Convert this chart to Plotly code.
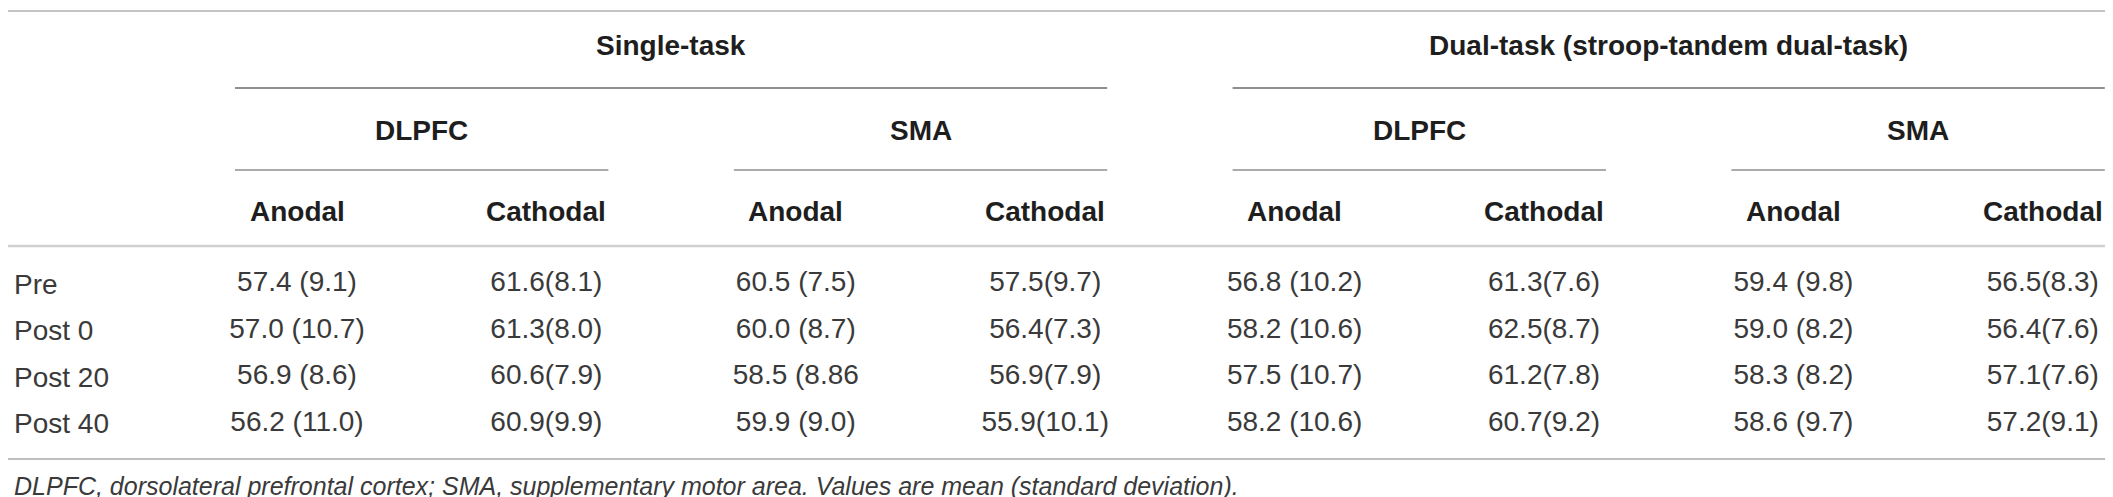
import plotly.graph_objects as go

# 표 내용
tasks = ["Single-task", "Dual-task (stroop-tandem dual-task)"]
regions = ["DLPFC", "SMA"]
polarities = ["Anodal", "Cathodal"]
timepoints = ["Pre", "Post 0", "Post 20", "Post 40"]

single_dlpfc_anodal = ["57.4 (9.1)", "57.0 (10.7)", "56.9 (8.6)", "56.2 (11.0)"]
single_dlpfc_cathodal = ["61.6(8.1)", "61.3(8.0)", "60.6(7.9)", "60.9(9.9)"]
single_sma_anodal = ["60.5 (7.5)", "60.0 (8.7)", "58.5 (8.86", "59.9 (9.0)"]
single_sma_cathodal = ["57.5(9.7)", "56.4(7.3)", "56.9(7.9)", "55.9(10.1)"]
dual_dlpfc_anodal = ["56.8 (10.2)", "58.2 (10.6)", "57.5 (10.7)", "58.2 (10.6)"]
dual_dlpfc_cathodal = ["61.3(7.6)", "62.5(8.7)", "61.2(7.8)", "60.7(9.2)"]
dual_sma_anodal = ["59.4 (9.8)", "59.0 (8.2)", "58.3 (8.2)", "58.6 (9.7)"]
dual_sma_cathodal = ["56.5(8.3)", "56.4(7.6)", "57.1(7.6)", "57.2(9.1)"]

footnote = ("DLPFC, dorsolateral prefrontal cortex; SMA, supplementary motor area. "
            "Values are mean (standard deviation).")

columns = [single_dlpfc_anodal, single_dlpfc_cathodal, single_sma_anodal, single_sma_cathodal,
           dual_dlpfc_anodal, dual_dlpfc_cathodal, dual_sma_anodal, dual_sma_cathodal]

# 배치 (픽셀 좌표)
W, H = 2113, 497
col_x0, col_step, half = 289, 249.4, 62
col_x = [col_x0 + col_step * i for i in range(len(columns))]
y_task, y_region, y_pol = 37, 122, 203
row_y0, row_step = 276, 46.5
y_foot = 478

FONT = "Liberation Sans, Arial, Helvetica, sans-serif"
fs = 28
dark = "#1e1e1e"
body = "#3a3a3a"

fig = go.Figure()

# 데이터 셀
xs, ys, txt = [], [], []
for i, col in enumerate(columns):
    for j, v in enumerate(col):
        xs.append(col_x[i])
        ys.append(row_y0 + row_step * j)
        txt.append(v)
fig.add_trace(go.Scatter(x=xs, y=ys, text=txt, mode="text", textposition="middle center",
                         textfont=dict(family=FONT, size=fs, color=body),
                         hoverinfo="skip", showlegend=False))

ann = []
# 행 이름
for j, t in enumerate(timepoints):
    ann.append(dict(x=4, y=row_y0 + row_step * j, text=t, xanchor="left", yanchor="middle",
                    showarrow=False, font=dict(family=FONT, size=fs, color=body)))

shapes = []
def hline(x0, x1, y, color, w):
    shapes.append(dict(type="line", x0=x0, x1=x1, y0=y, y1=y, xref="x", yref="y",
                       line=dict(color=color, width=w)))

# 헤더
for ti, task in enumerate(tasks):
    a, b = col_x[ti * 4], col_x[ti * 4 + 3]
    ann.append(dict(x=(a + b) / 2, y=y_task, text="<b>%s</b>" % task, showarrow=False,
                    font=dict(family=FONT, size=fs, color=dark)))
    hline(a - half, b + half, 80, "#6a6a6a", 1.6)
    for ri, reg in enumerate(regions):
        c0 = ti * 4 + ri * 2
        a2, b2 = col_x[c0], col_x[c0 + 1]
        ann.append(dict(x=(a2 + b2) / 2, y=y_region, text="<b>%s</b>" % reg, showarrow=False,
                        font=dict(family=FONT, size=fs, color=dark)))
        hline(a2 - half, b2 + half, 162, "#ababab", 2)
        for pi, pol in enumerate(polarities):
            ann.append(dict(x=col_x[c0 + pi], y=y_pol, text="<b>%s</b>" % pol, showarrow=False,
                            font=dict(family=FONT, size=fs, color=dark)))

ann.append(dict(x=4, y=y_foot, text="<i>%s</i>" % footnote, xanchor="left", yanchor="middle",
                showarrow=False, font=dict(family=FONT, size=25, color=body)))

hline(0, W, 3, "#b0b0b0", 1.6)
hline(0, W, 238, "#d0d0d0", 2.5)
hline(0, W, 451, "#a8a8a8", 1.6)

fig.update_layout(width=W, height=H, margin=dict(l=0, r=0, t=0, b=0),
                  paper_bgcolor="white", plot_bgcolor="white",
                  xaxis=dict(range=[0, W], visible=False, fixedrange=True),
                  yaxis=dict(range=[H, 0], visible=False, fixedrange=True),
                  annotations=ann, shapes=shapes)
fig.write_html("out.html")
